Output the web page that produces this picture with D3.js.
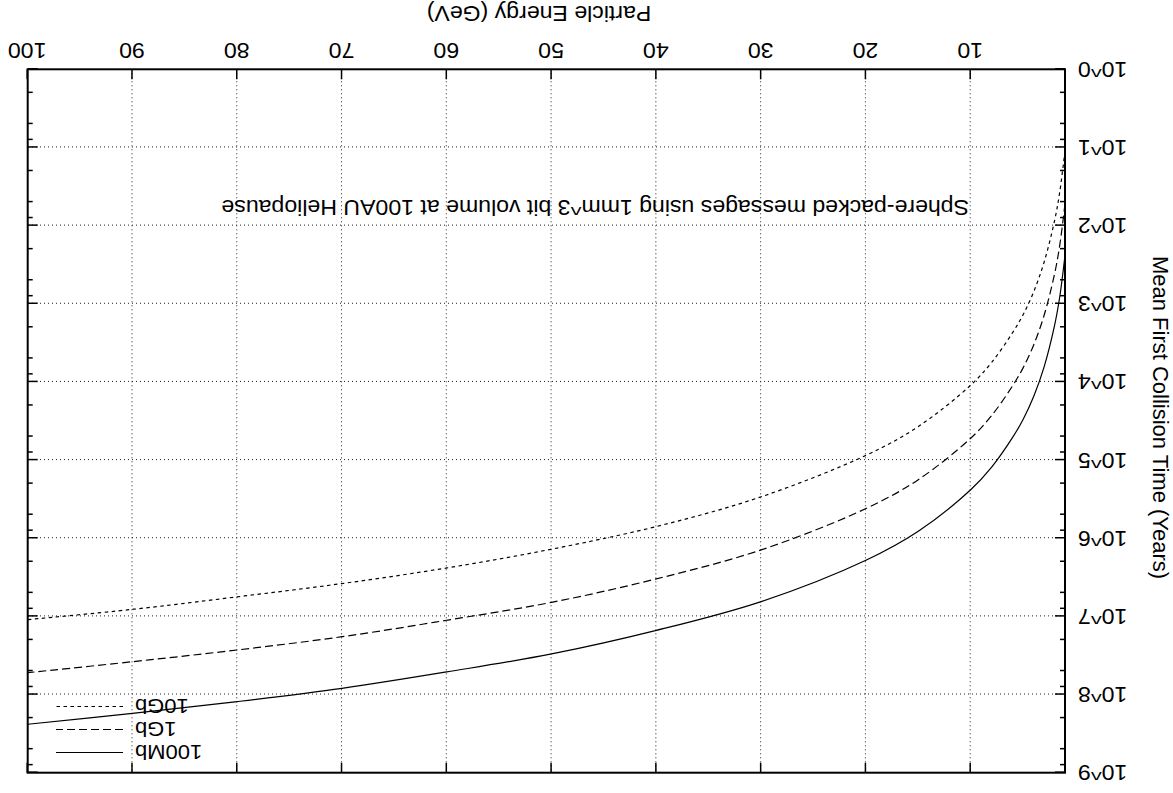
<!DOCTYPE html>
<html>
<head>
<meta charset="utf-8">
<script src="https://cdn.jsdelivr.net/npm/d3@7"></script>
<style>
  html, body { margin: 0; padding: 0; background: #fff; }
  svg { display: block; }
  text { font-family: "Liberation Sans", Arial, Helvetica, sans-serif; font-size: 22px; fill: #000; }
</style>
</head>
<body>
<svg id="chart" width="1173" height="793"></svg>
<script>
// Particle energy samples (GeV)
const energies = [1, 1.5, 2, 3, 4, 5, 6, 8, 10, 15, 20, 30, 40, 50, 60, 70, 80, 90, 100];

// Mean first collision time (years) for each message size
const time100Mb = [240, 813, 1905, 6460, 1.55e4, 3.02e4, 5.13e4, 1.23e5, 2.4e5, 8.13e5,
                   1.91e6, 6.46e6, 1.51e7, 3.02e7, 5.13e7, 8.32e7, 1.23e8, 1.74e8, 2.4e8];
const time1Gb   = [52.5, 178, 417, 1413, 3390, 6610, 1.12e4, 2.69e4, 5.25e4, 1.78e5,
                   4.17e5, 1.41e6, 3.31e6, 6.61e6, 1.12e7, 1.82e7, 2.69e7, 3.8e7, 5.25e7];
const time10Gb  = [11, 37, 87, 295, 708, 1380, 2340, 5620, 1.1e4, 3.72e4,
                   8.7e4, 2.95e5, 7.08e5, 1.38e6, 2.4e6, 3.8e6, 5.62e6, 8.13e6, 1.1e7];

const seriesNames = ["100Mb", "1Gb", "10Gb"];

const xTicks = [10, 20, 30, 40, 50, 60, 70, 80, 90, 100];
const yTicks = [1, 1e1, 1e2, 1e3, 1e4, 1e5, 1e6, 1e7, 1e8, 1e9];
const yTickLabels = ["10^0", "10^1", "10^2", "10^3", "10^4", "10^5", "10^6", "10^7", "10^8", "10^9"];
const minorFactors = [2, 5, 8];

const titleText = "Sphere-packed messages using 1mm^3 bit volume at 100AU Heliopause";
const xLabel = "Particle Energy (GeV)";
const yLabel = "Mean First Collision Time (Years)";

// ---- layout ----
const W = 1173, H = 793;
const plot = { left: 108, right: 1145.3, top: 20.3, bottom: 723.7 };
const pw = plot.right - plot.left, ph = plot.bottom - plot.top;
const stretch = 1.05;   // horizontal text is set slightly wide

const svg = d3.select("#chart");
// the whole figure is drawn turned half a revolution
const root = svg.append("g").attr("transform", `rotate(180, ${W / 2}, ${H / 2})`);

const x = d3.scaleLinear().domain([1, 100]).range([plot.left, plot.right]);
const y = d3.scaleLog().domain([1, 1e9]).range([plot.bottom, plot.top]);

const minorTicks = [];
for (let k = 0; k < 9; k++) minorFactors.forEach(f => minorTicks.push(f * Math.pow(10, k)));

// ---- grid ----
const gridStyle = g => {
  g.select(".domain").remove();
  g.selectAll(".tick line")
    .attr("stroke", "#222").attr("stroke-width", 1).attr("stroke-dasharray", "1,3");
  g.selectAll("text").remove();
};
root.append("g")
  .attr("transform", `translate(0,${plot.bottom})`)
  .call(d3.axisBottom(x).tickValues(xTicks.filter(v => v < 100)).tickSize(-ph))
  .call(gridStyle);
root.append("g")
  .attr("transform", `translate(${plot.left},0)`)
  .call(d3.axisLeft(y).tickValues(yTicks.slice(1, -1)).tickSize(-pw))
  .call(gridStyle);

// ---- curves ----
const series = [
  { name: seriesNames[0], values: time100Mb, dash: null },
  { name: seriesNames[1], values: time1Gb, dash: "8,4" },
  { name: seriesNames[2], values: time10Gb, dash: "3.5,3.5" }
];

root.append("clipPath").attr("id", "plotClip")
  .append("rect")
  .attr("x", plot.left).attr("y", plot.top).attr("width", pw).attr("height", ph);

const line = d3.line()
  .x(d => x(d.e))
  .y(d => y(d.t))
  .curve(d3.curveCatmullRom.alpha(0.5));

const curves = root.append("g").attr("clip-path", "url(#plotClip)");
series.forEach(s => {
  const pts = energies.map((e, i) => ({ e, t: s.values[i] }));
  curves.append("path")
    .datum(pts)
    .attr("d", line)
    .attr("fill", "none")
    .attr("stroke", "#000")
    .attr("stroke-width", 1.2)
    .attr("stroke-dasharray", s.dash);
});

// ---- axes with inward ticks on all four sides ----
const tickStyle = g => {
  g.select(".domain").remove();
  g.selectAll(".tick line").attr("stroke", "#000").attr("stroke-width", 1.5);
  g.selectAll("text").attr("fill", "#000").style("font-size", "22px")
    .style("font-family", '"Liberation Sans", Arial, Helvetica, sans-serif');
};

root.append("g")
  .attr("transform", `translate(0,${plot.bottom})`)
  .call(d3.axisBottom(x).tickValues(xTicks).tickSizeInner(-10).tickSizeOuter(0).tickPadding(11))
  .call(tickStyle)
  .call(g => g.selectAll(".tick text").attr("transform", `scale(${stretch},1)`));
root.append("g")
  .attr("transform", `translate(0,${plot.top})`)
  .call(d3.axisTop(x).tickValues(xTicks).tickSizeInner(-10).tickSizeOuter(0).tickFormat(""))
  .call(tickStyle);

root.append("g")
  .attr("transform", `translate(${plot.left},0)`)
  .call(d3.axisLeft(y).tickValues(yTicks).tickSizeInner(-10).tickSizeOuter(0).tickPadding(13)
    .tickFormat((d, i) => yTickLabels[i]))
  .call(tickStyle)
  .call(g => g.selectAll(".tick text")
    .attr("x", 0)
    .attr("transform", `translate(-13,0) scale(${stretch},1)`));
root.append("g")
  .attr("transform", `translate(${plot.right},0)`)
  .call(d3.axisRight(y).tickValues(yTicks).tickSizeInner(-10).tickSizeOuter(0).tickFormat(""))
  .call(tickStyle);

root.append("g")
  .attr("transform", `translate(${plot.left},0)`)
  .call(d3.axisLeft(y).tickValues(minorTicks).tickSizeInner(-5).tickSizeOuter(0).tickFormat(""))
  .call(tickStyle);
root.append("g")
  .attr("transform", `translate(${plot.right},0)`)
  .call(d3.axisRight(y).tickValues(minorTicks).tickSizeInner(-5).tickSizeOuter(0).tickFormat(""))
  .call(tickStyle);

// ---- frame ----
root.append("rect")
  .attr("x", plot.left).attr("y", plot.top).attr("width", pw).attr("height", ph)
  .attr("fill", "none").attr("stroke", "#000").attr("stroke-width", 2);

// ---- legend (top right, no box) ----
const legend = root.append("g");
series.forEach((s, i) => {
  const ly = 40.5 + i * 23;
  legend.append("text")
    .attr("transform", `translate(1038,${ly + 7.5}) scale(1.1,1)`)
    .attr("text-anchor", "end")
    .style("font-size", "20px")
    .text(s.name);
  legend.append("line")
    .attr("x1", 1050).attr("x2", 1117).attr("y1", ly).attr("y2", ly)
    .attr("stroke", "#000").attr("stroke-width", 1.2)
    .attr("stroke-dasharray", s.dash);
});

// ---- labels ----
root.append("text")
  .attr("transform", `translate(204,593.5) scale(${stretch},1)`)
  .attr("text-anchor", "start")
  .text(titleText);

root.append("text")
  .attr("transform", `translate(634,787) scale(${stretch},1)`)
  .attr("text-anchor", "middle")
  .text(xLabel);

root.append("text")
  .attr("transform", `translate(19.7, 375.5) rotate(-90)`)
  .attr("text-anchor", "middle")
  .text(yLabel);
</script>
</body>
</html>
